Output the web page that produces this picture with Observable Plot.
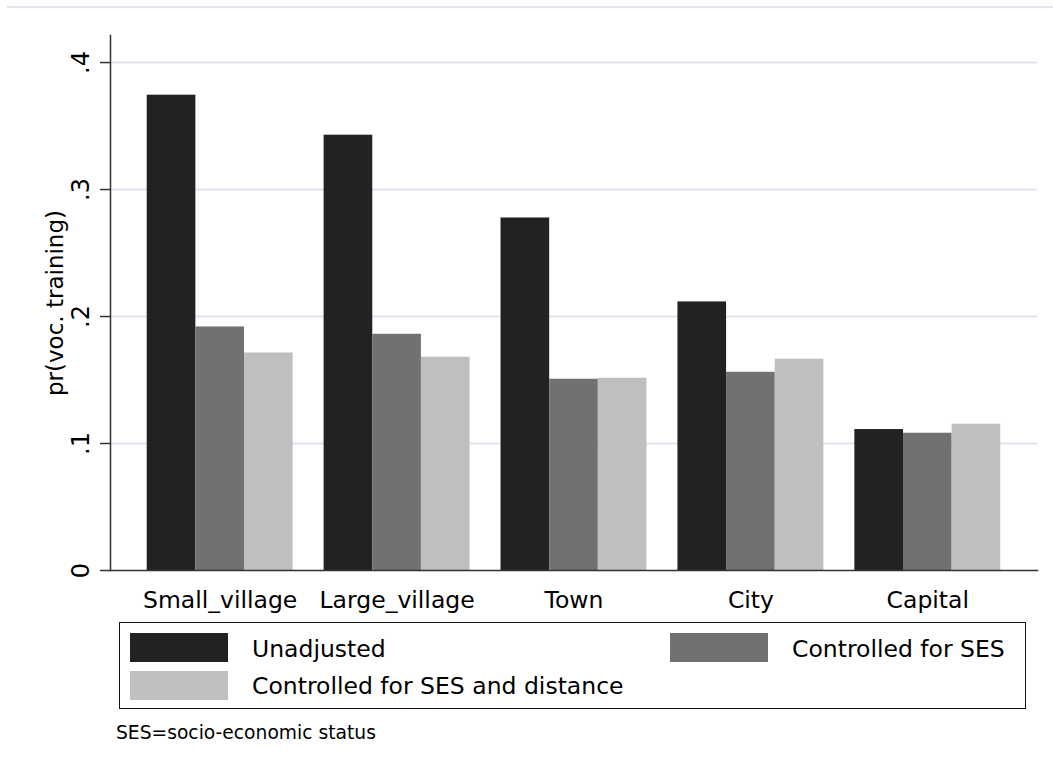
<!DOCTYPE html>
<html>
<head>
<meta charset="utf-8">
<script src="https://cdn.jsdelivr.net/npm/d3@7"></script>
<script src="https://cdn.jsdelivr.net/npm/@observablehq/plot@0.6"></script>
<style>
  html, body { margin: 0; padding: 0; background: #fff; }
  #wrap { position: relative; width: 1053px; height: 769px; font-family: "DejaVu Sans", sans-serif; color: #000; overflow: hidden; }
  #wrap svg { position: absolute; left: 0; top: 0; }
  .topline { position: absolute; left: 7px; top: 6px; width: 1046px; height: 2px; background: #e2e6ef; }
  .legbox { position: absolute; left: 119px; top: 622px; width: 907px; height: 87px; border: 1.5px solid #111; box-sizing: border-box; }
  .sw { position: absolute; width: 98px; height: 29px; }
  .lt { position: absolute; font-size: 23.5px; line-height: 1; white-space: nowrap; }
  .cap { position: absolute; left: 116px; top: 724px; font-size: 18.7px; line-height: 1; white-space: nowrap; }
</style>
</head>
<body>
<div id="wrap"></div>
<script>
// ---- data ----
const categories = ["Small_village", "Large_village", "Town", "City", "Capital"];
const seriesNames = ["Unadjusted", "Controlled for SES", "Controlled for SES and distance"];
const seriesColors = ["#222222", "#717171", "#bfbfbf"];
const unadjusted      = [0.3743, 0.3428, 0.2776, 0.2115, 0.1110];
const controlledSES   = [0.1918, 0.1860, 0.1506, 0.1561, 0.1081];
const controlledSESd  = [0.1713, 0.1680, 0.1514, 0.1664, 0.1152];
const yTickValues = [0, 0.1, 0.2, 0.3, 0.4];
const yTickLabels = ["0", ".1", ".2", ".3", ".4"];
const yTitle = "pr(voc. training)";
const caption = "SES=socio-economic status";

const seriesValues = [unadjusted, controlledSES, controlledSESd];

// ---- layout ----
const W = 1053, H = 620;
const mL = 110, mR = 16, mT = 35, mB = 50;
const padIn = 0.175, padOut = 0.2075;
const n = categories.length;
const step = (W - mL - mR) / (n - padIn + 2 * padOut);
const bw = step * (1 - padIn);
const k = seriesNames.length;

const rows = categories.map((c, i) => ({cat: c, i}));

const barMarks = seriesValues.map((vals, s) =>
  Plot.barY(rows, {
    x: "cat",
    y: d => vals[d.i],
    fill: seriesColors[s],
    insetLeft: s * bw / k,
    insetRight: (k - 1 - s) * bw / k
  })
);

const chart = Plot.plot({
  width: W,
  height: H,
  marginLeft: mL,
  marginRight: mR,
  marginTop: mT,
  marginBottom: mB,
  style: {fontFamily: "DejaVu Sans", background: "transparent", color: "#000"},
  x: {domain: categories, paddingInner: padIn, paddingOuter: padOut, round: false, axis: null},
  y: {domain: [0, 0.4213], axis: null},
  marks: [
    Plot.ruleY(yTickValues.slice(1), {stroke: "#e0e4ee", strokeWidth: 2}),
    ...barMarks,
    Plot.frame({anchor: "bottom", stroke: "#333", strokeWidth: 1.5}),
    Plot.frame({anchor: "left", stroke: "#333", strokeWidth: 1.5}),
    Plot.axisY({ticks: yTickValues, tickSize: 10, tickFormat: () => "", stroke: "#333", strokeWidth: 1.5, label: null}),
    Plot.text(yTickValues, {
      y: d => d,
      text: (d, i) => yTickLabels[i],
      frameAnchor: "left",
      dx: -22,
      rotate: -90,
      textAnchor: "middle",
      lineAnchor: "bottom",
      fontSize: 24,
      fill: "#000"
    }),
    Plot.text([yTitle], {
      text: d => d,
      frameAnchor: "left",
      dx: -48,
      rotate: -90,
      textAnchor: "middle",
      lineAnchor: "bottom",
      fontSize: 23,
      fill: "#000"
    }),
    Plot.text(categories, {
      x: d => d,
      text: d => d,
      frameAnchor: "bottom",
      dy: 37,
      lineAnchor: "bottom",
      textAnchor: "middle",
      fontSize: 23.5,
      fill: "#000"
    })
  ]
});

const wrap = document.getElementById("wrap");
wrap.appendChild(chart);

const topLine = document.createElement("div");
topLine.className = "topline";
wrap.appendChild(topLine);

// legend box
const legBox = document.createElement("div");
legBox.className = "legbox";
wrap.appendChild(legBox);

// legend item positions: [swatchLeft, swatchTop, textLeft]
const legendSlots = [[130, 633.3, 252], [670, 633.3, 792], [130, 670.7, 252]];
seriesNames.forEach((name, s) => {
  const [sx, sy, tx] = legendSlots[s];
  const sw = document.createElement("div");
  sw.className = "sw";
  sw.style.left = sx + "px";
  sw.style.top = sy + "px";
  sw.style.background = seriesColors[s];
  wrap.appendChild(sw);
  const t = document.createElement("div");
  t.className = "lt";
  t.style.left = tx + "px";
  t.style.top = (sy + 4.3) + "px";
  t.textContent = name;
  wrap.appendChild(t);
});

const capDiv = document.createElement("div");
capDiv.className = "cap";
capDiv.textContent = caption;
wrap.appendChild(capDiv);
</script>
</body>
</html>
